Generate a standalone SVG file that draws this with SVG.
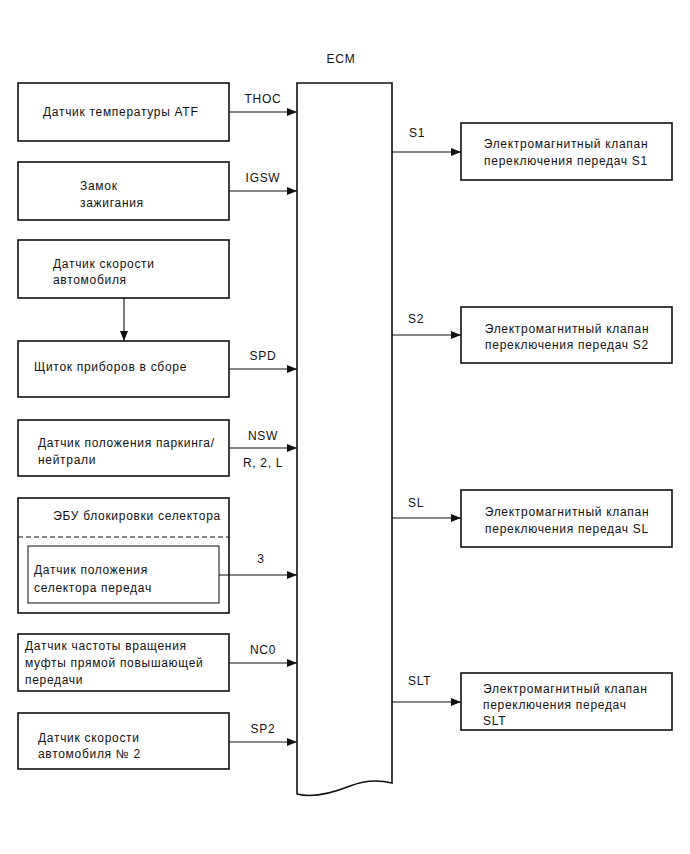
<svg xmlns="http://www.w3.org/2000/svg" width="690" height="854" viewBox="0 0 690 854">
<defs>
<style>
text{font-family:"Liberation Sans",Arial,sans-serif;font-size:12px;letter-spacing:0.7px;fill:#111}
.box{fill:#fff;stroke:#111;stroke-width:1.6}
.inner{fill:#fff;stroke:#333;stroke-width:1.2}
.ln{stroke:#111;stroke-width:1.1;fill:none}
.mid{text-anchor:middle}
.end{text-anchor:end}
</style>
<marker id="ah" viewBox="0 0 10 8" refX="10" refY="4" markerWidth="10" markerHeight="8" markerUnits="userSpaceOnUse" orient="auto">
<path d="M0,0L10,4L0,8Z" fill="#111"/>
</marker>
</defs>
<rect width="690" height="854" fill="#fff"/>

<g id="ecm">
<text x="341" y="63" class="mid">ECM</text>
<path d="M297,794 L297,83 L392,83 L392,783 C380,780 365,780 350,786 C330,794 312,798 297,794 Z" class="box"/>
</g>

<g id="n1">
<rect x="18" y="83" width="211" height="58" class="box"/>
<text x="43" y="116">Датчик температуры ATF</text>
</g>
<g id="n2">
<rect x="18" y="162" width="211" height="58" class="box"/>
<text x="80" y="190">Замок</text>
<text x="80" y="207">зажигания</text>
</g>
<g id="n3">
<rect x="18" y="240" width="211" height="58" class="box"/>
<text x="53" y="268">Датчик скорости</text>
<text x="53" y="284">автомобиля</text>
</g>
<g id="n4">
<rect x="18" y="341" width="211" height="56" class="box"/>
<text x="34" y="371">Щиток приборов в сборе</text>
</g>
<g id="n5">
<rect x="18" y="420" width="211" height="56" class="box"/>
<text x="38" y="447">Датчик положения паркинга/</text>
<text x="38" y="464">нейтрали</text>
</g>
<g id="n6">
<rect x="18" y="498" width="211" height="115" class="box"/>
<text x="221" y="520" class="end">ЭБУ блокировки селектора</text>
<line x1="18" y1="537" x2="229" y2="537" stroke="#111" stroke-width="1.1" stroke-dasharray="5,3"/>
<g id="n6a">
<rect x="28" y="546" width="191" height="57" class="inner"/>
<text x="34" y="574">Датчик положения</text>
<text x="34" y="592">селектора передач</text>
</g>
</g>
<g id="n7">
<rect x="18" y="634" width="211" height="57" class="box"/>
<text x="25" y="650">Датчик частоты вращения</text>
<text x="25" y="667">муфты прямой повышающей</text>
<text x="25" y="684">передачи</text>
</g>
<g id="n8">
<rect x="18" y="713" width="211" height="56" class="box"/>
<text x="38" y="742">Датчик скорости</text>
<text x="38" y="758">автомобиля № 2</text>
</g>

<g id="r1">
<rect x="461" y="123" width="211" height="57" class="box"/>
<text x="566" y="148" class="mid">Электромагнитный клапан</text>
<text x="566" y="165" class="mid">переключения передач S1</text>
</g>
<g id="r2">
<rect x="461" y="307" width="211" height="56" class="box"/>
<text x="567" y="333" class="mid">Электромагнитный клапан</text>
<text x="567" y="349" class="mid">переключения передач S2</text>
</g>
<g id="r3">
<rect x="461" y="490" width="211" height="57" class="box"/>
<text x="567" y="516" class="mid">Электромагнитный клапан</text>
<text x="567" y="533" class="mid">переключения передач SL</text>
</g>
<g id="r4">
<rect x="461" y="673" width="211" height="57" class="box"/>
<text x="483" y="693">Электромагнитный клапан</text>
<text x="483" y="709">переключения передач</text>
<text x="483" y="725">SLT</text>
</g>

<g id="connectors">
<line x1="229" y1="112" x2="297" y2="112" class="ln" marker-end="url(#ah)"/>
<text x="263" y="103" class="mid">THOC</text>
<line x1="229" y1="191" x2="297" y2="191" class="ln" marker-end="url(#ah)"/>
<text x="263" y="182" class="mid">IGSW</text>
<line x1="124" y1="298" x2="124" y2="341" class="ln" marker-end="url(#ah)"/>
<line x1="229" y1="369" x2="297" y2="369" class="ln" marker-end="url(#ah)"/>
<text x="263" y="360" class="mid">SPD</text>
<line x1="229" y1="448" x2="297" y2="448" class="ln" marker-end="url(#ah)"/>
<text x="263" y="440" class="mid">NSW</text>
<text x="263" y="467" class="mid">R, 2, L</text>
<line x1="219" y1="575" x2="297" y2="575" class="ln" marker-end="url(#ah)"/>
<text x="261" y="563" class="mid">3</text>
<line x1="229" y1="663" x2="297" y2="663" class="ln" marker-end="url(#ah)"/>
<text x="263" y="654" class="mid">NC0</text>
<line x1="229" y1="742" x2="297" y2="742" class="ln" marker-end="url(#ah)"/>
<text x="263" y="733" class="mid">SP2</text>

<line x1="392" y1="152" x2="461" y2="152" class="ln" marker-end="url(#ah)"/>
<text x="409" y="137">S1</text>
<line x1="392" y1="335" x2="461" y2="335" class="ln" marker-end="url(#ah)"/>
<text x="408" y="323">S2</text>
<line x1="392" y1="518" x2="461" y2="518" class="ln" marker-end="url(#ah)"/>
<text x="408" y="507">SL</text>
<line x1="392" y1="702" x2="461" y2="702" class="ln" marker-end="url(#ah)"/>
<text x="408" y="685">SLT</text>
</g>
</svg>
